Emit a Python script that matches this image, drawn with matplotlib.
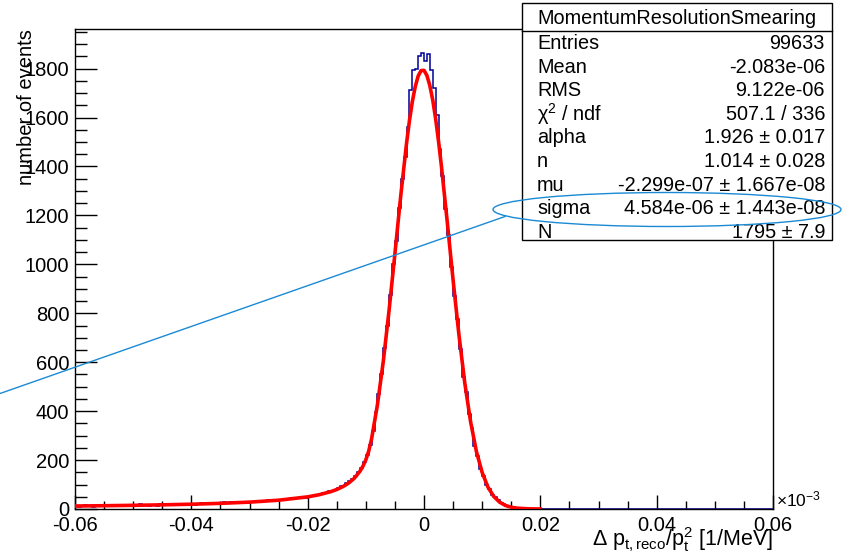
import numpy as np
import matplotlib
matplotlib.use("Agg")
import matplotlib.pyplot as plt
from matplotlib.patches import Rectangle, Ellipse
from matplotlib.lines import Line2D
from matplotlib.ticker import MultipleLocator

plt.rcParams['font.family'] = ['Liberation Sans', 'DejaVu Sans']
plt.rcParams['mathtext.fontset'] = 'custom'
plt.rcParams['mathtext.rm'] = 'Liberation Sans'
plt.rcParams['mathtext.it'] = 'Liberation Sans:italic'
plt.rcParams['axes.unicode_minus'] = False

# histogram: 240 bins from -0.06 to 0.06 (x10^-3 1/MeV)
bin_lo = -0.06
bin_hi = 0.06
counts = [
    14, 9, 12, 16, 11, 13, 10, 15, 12, 14,
    12, 16, 13, 11, 17, 14, 15, 12, 18, 14,
    16, 13, 19, 15, 17, 14, 18, 16, 13, 19,
    18, 15, 20, 17, 22, 16, 19, 21, 17, 20,
    22, 18, 21, 25, 19, 23, 20, 24, 22, 26,
    21, 27, 24, 29, 23, 26, 30, 25, 28, 27,
    30, 27, 33, 29, 34, 31, 36, 32, 35, 37,
    38, 35, 41, 39, 44, 40, 46, 43, 48, 47,
    51, 54, 53, 58,
    60, 64, 66, 72,
    74, 79, 86, 92,
    96, 105, 113, 124,
    134, 150, 168, 192,
    222, 262, 318, 395, 470, 552, 660, 748,
    875, 1000, 1095, 1230, 1350, 1440, 1560, 1712,
    1795, 1800, 1850, 1865, 1830, 1860, 1795, 1720,
    1610, 1470, 1360, 1225, 1120, 990, 870, 775,
    655, 540, 480, 390, 330, 258, 215, 163,
    135, 99, 81, 57, 48, 36, 26, 19,
    14, 10, 7, 5, 3, 2, 2, 1,
    1, 0, 1, 0,
    0, 0, 1, 0, 0, 1, 0, 1,
] + [0] * 72

# crystal ball fit curve
fit_x = [-0.06, -0.055, -0.05, -0.045, -0.04, -0.035, -0.03, -0.025, -0.02,
         -0.018, -0.016, -0.015, -0.014, -0.013, -0.012, -0.011, -0.0105, -0.010, -0.0095,
         -0.009, -0.008, -0.007, -0.006, -0.005, -0.004, -0.003,
         -0.0025, -0.002, -0.0015, -0.001, -0.0005, 0.0,
         0.0005, 0.001, 0.0015, 0.002, 0.0025, 0.003,
         0.004, 0.005, 0.006, 0.007, 0.008, 0.009, 0.010, 0.011, 0.012, 0.013,
         0.014, 0.015, 0.016, 0.018, 0.020]
fit_y = [12.2, 13.4, 15.0, 17.0, 19.6, 23.1, 28.1, 35.9, 49.6,
         58.5, 71.1, 79.8, 90.8, 105.3, 125.2, 154.5, 174.7, 201, 237,
         288, 427, 603, 813, 1044, 1280, 1495,
         1588, 1666, 1727, 1770, 1792, 1793,
         1772, 1731, 1672, 1595, 1503, 1400,
         1173, 936, 713, 517, 358, 236, 149, 89, 51, 27.9,
         14.5, 7.2, 3.4, 0.66, 0.07]

stats_title = "MomentumResolutionSmearing"
stats_names = ["Entries", "Mean", "RMS", "χ$^{2}$ / ndf", "alpha", "n", "mu", "sigma", "N"]
stats_values = ["99633", "-2.083e-06", "9.122e-06", "507.1 / 336",
                "1.926 ± 0.017", "1.014 ± 0.028", "-2.299e-07 ± 1.667e-08",
                "4.584e-06 ± 1.443e-08", "1795 ± 7.9"]

W, H = 843, 557
fig = plt.figure(figsize=(W / 100, H / 100), dpi=100)
ax = fig.add_axes([75 / W, 1 - 509 / H, (773 - 75) / W, (509 - 29) / H])

edges = np.linspace(bin_lo, bin_hi, len(counts) + 1)
ax.stairs(counts, edges, color='#000099', lw=1.1, zorder=2)
ax.plot(fit_x, fit_y, color='red', lw=2.6, zorder=3, solid_joinstyle='round')

ax.set_xlim(bin_lo, bin_hi)
ax.set_ylim(0, 1962)
ax.xaxis.set_minor_locator(MultipleLocator(0.005))
ax.yaxis.set_minor_locator(MultipleLocator(50))
ax.set_xticks([-0.06, -0.04, -0.02, 0, 0.02, 0.04, 0.06])
ax.set_xticklabels(["-0.06", "-0.04", "-0.02", "0", "0.02", "0.04", "0.06"])
ax.set_yticks(range(0, 2000, 200))
ax.set_yticklabels([str(v) for v in range(0, 2000, 200)])
ax.tick_params(axis='x', which='major', direction='in', length=10, width=1, labelsize=14.5, pad=5)
ax.tick_params(axis='x', which='minor', direction='in', length=5.5, width=1)
ax.tick_params(axis='y', which='major', direction='in', length=16, width=1, labelsize=14.5, pad=4)
ax.tick_params(axis='y', which='minor', direction='in', length=8.5, width=1)
for sp in ax.spines.values():
    sp.set_linewidth(1)

fig.text(773 / W, 1 - 546 / H, r"Δ p$_{\rm t,reco}$/p$_{\rm t}^{2}$ [1/MeV]",
         ha='right', va='baseline', fontsize=15.5)
fig.text(27 / W, 1 - 29 / H, "number of events", rotation=90,
         ha='center', va='top', fontsize=14.5)
fig.text(776 / W, 1 - 506 / H, r"$\times$10$^{-3}$", ha='left', va='baseline', fontsize=12.5)

# stats box
bx0, bx1, by0, by1 = 521.5, 831.5, 3.5, 240.5
fig.patches.append(Rectangle((bx0 / W, 1 - by1 / H), (bx1 - bx0) / W, (by1 - by0) / H,
                             transform=fig.transFigure, facecolor='white',
                             edgecolor='black', lw=1, zorder=5))
fig.lines.append(Line2D([bx0 / W, bx1 / W], [1 - 30.5 / H, 1 - 30.5 / H],
                        transform=fig.transFigure, color='black', lw=1, zorder=6))
fig.text((bx0 + bx1) / 2 / W, 1 - 18 / H, stats_title, ha='center', va='center',
         fontsize=14.3, zorder=7)
for i, (name, val) in enumerate(zip(stats_names, stats_values)):
    yc = 43.5 + 23.6 * i
    fig.text(537 / W, 1 - yc / H, name, ha='left', va='center', fontsize=14.3, zorder=7)
    fig.text(825 / W, 1 - yc / H, val, ha='right', va='center', fontsize=14.3, zorder=7)

# blue annotation around sigma
fig.patches.append(Ellipse((667 / W, 1 - 209.5 / H), 348 / W, 34 / H,
                           transform=fig.transFigure, facecolor='none',
                           edgecolor='#1a8ad4', lw=1, zorder=8))
fig.lines.append(Line2D([0, 505 / W], [1 - 393.5 / H, 1 - 216.5 / H],
                        transform=fig.transFigure, color='#1a8ad4', lw=1, zorder=8))

fig.savefig("out.png", dpi=100)
